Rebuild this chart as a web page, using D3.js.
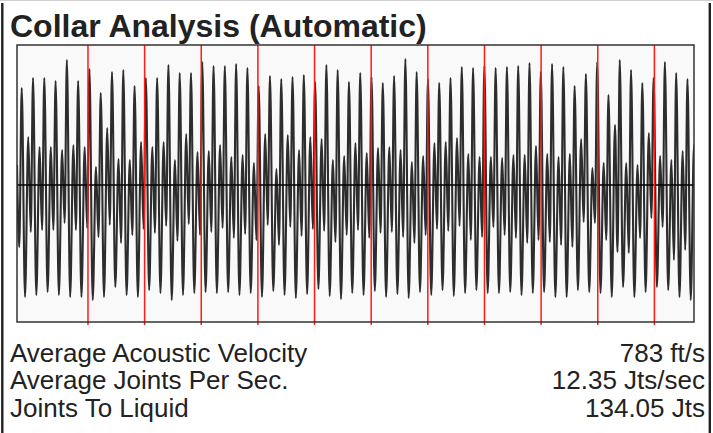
<!DOCTYPE html>
<html>
<head>
<meta charset="utf-8">
<script src="https://cdn.jsdelivr.net/npm/d3@7"></script>
<style>
  body { margin: 0; background: #fff; }
</style>
</head>
<body>
<div id="chart"></div>
<script>
// values (amplitude, arbitrary units)
let leadIn = [20, -62];
let peakTop = [97, 107, 107, 104, 125, 104, 116, 92, 113, 115,
  99, 107, 107, 120, 112, 112, 123, 119, 119, 121,
  117, 99, 109, 106, 108, 110, 103, 120, 115, 103,
  112, 108, 102, 109, 126, 113, 106, 102, 107, 118,
  117, 119, 117, 118, 119, 122, 113, 121, 118, 99,
  111, 123, 90, 125, 115, 102, 107, 123, 112, 106];
let troughDeep = [-112, -110, -107, -110, -112, -112, -115, -112, -102, -110,
  -112, -105, -108, -115, -110, -108, -107, -108, -107, -110,
  -108, -112, -106, -110, -113, -109, -104, -111, -114, -108,
  -110, -106, -112, -109, -113, -107, -110, -105, -111, -108,
  -105, -108, -108, -107, -110, -108, -107, -112, -112, -105,
  -107, -108, -112, -102, -112, -107, -102, -105, -112, -115];
let peakMid = [48, 38, 38, 35, 40, 38, 18, 57, 26, 25,
  43, 38, 43, 25, 51, 33, 34, 40, 28, 30,
  22, 51, 16, 50, 35, 48, 46, 25, 29, 42,
  32, 37, 38, 35, 23, 29, 42, 43, 47, 31,
  28, 28, 27, 30, 30, 39, 31, 28, 31, 46,
  17, 22, 60, 22, 20, 52, 29, 25, 34, 40];
let troughShallow = [-47, -45, -45, -38, -45, -43, -52, -40, -58, -50,
  -44, -48, -41, -56, -39, -50, -47, -43, -53, -49,
  -55, -40, -60, -42, -51, -44, -46, -57, -50, -45,
  -53, -48, -47, -52, -58, -50, -44, -46, -41, -55,
  -52, -42, -50, -53, -58, -55, -57, -60, -62, -37,
  -38, -55, -67, -68, -53, -33, -42, -75, -65, -50];
// collar (joint) marks, in cycle units
let collars = [6.29, 11.31, 16.33, 21.35, 26.37, 31.39, 36.41, 41.43, 46.45, 51.47, 56.49];
// where each extreme falls inside a cycle
let phase = [0.42, 0.71, 1.0, 1.22];

let title = "Collar Analysis (Automatic)";
let labels = ["Average Acoustic Velocity", "Average Joints Per Sec.", "Joints To Liquid"];
let values = ["783 ft/s", "12.35 Jts/sec", "134.05 Jts"];

let W = 713, H = 433;
let box = { left: 17, top: 45, right: 694, bottom: 322 };

let svg = d3.select("#chart").append("svg")
  .attr("width", W).attr("height", H);

// outer frame
svg.append("line").attr("x1", 0).attr("x2", W).attr("y1", 0.5).attr("y2", 0.5)
  .attr("stroke", "#cfcfcf").attr("stroke-width", 1);
svg.append("line").attr("x1", 2.3).attr("x2", 2.3).attr("y1", 3).attr("y2", H)
  .attr("stroke", "#222").attr("stroke-width", 2.4);
svg.append("line").attr("x1", 709.8).attr("x2", 709.8).attr("y1", 3).attr("y2", H)
  .attr("stroke", "#222").attr("stroke-width", 2.4);

svg.append("text")
  .attr("x", 10).attr("y", 37)
  .style("font-family", "'Liberation Sans', Arial, sans-serif")
  .style("font-weight", "bold")
  .style("font-size", "32px")
  .attr("fill", "#222")
  .text(title);

let x = d3.scaleLinear().domain([0, 60]).range([box.left, box.right]);
let y = d3.scaleLinear().domain([-137, 140]).range([box.bottom, box.top]);

// build trace points
let trace = [{ t: 0, v: leadIn[0] }, { t: 0.2, v: leadIn[1] }];
peakTop.forEach(function (d, i) {
  trace.push({ t: i + phase[0], v: peakTop[i] });
  trace.push({ t: i + phase[1], v: troughDeep[i] });
  trace.push({ t: i + phase[2], v: peakMid[i] });
  trace.push({ t: i + phase[3], v: troughShallow[i] });
});

svg.append("defs").append("clipPath").attr("id", "clip")
  .append("rect")
  .attr("x", box.left).attr("y", box.top)
  .attr("width", box.right - box.left).attr("height", box.bottom - box.top);

svg.append("rect")
  .attr("x", box.left).attr("y", box.top)
  .attr("width", box.right - box.left).attr("height", box.bottom - box.top)
  .attr("fill", "#f9f9f9");

let line = d3.line()
  .x(function (d) { return x(d.t); })
  .y(function (d) { return y(d.v); })
  .curve(d3.curveMonotoneX);

svg.append("path")
  .datum(trace)
  .attr("clip-path", "url(#clip)")
  .attr("fill", "none")
  .attr("stroke", "#000")
  .attr("stroke-opacity", 0.82)
  .attr("stroke-width", 2.1)
  .attr("stroke-linejoin", "round")
  .attr("d", line);

// zero line
svg.append("line")
  .attr("x1", box.left).attr("x2", box.right)
  .attr("y1", y(0)).attr("y2", y(0))
  .attr("stroke", "#000").attr("stroke-width", 1.5);

// collar marks
svg.selectAll(".collar")
  .data(collars)
  .enter()
  .append("line")
  .attr("class", "collar")
  .attr("x1", function (d) { return x(d); })
  .attr("x2", function (d) { return x(d); })
  .attr("y1", box.top).attr("y2", box.bottom + 3)
  .attr("stroke", "#ff1a1a").attr("stroke-width", 1.5);

// plot border
svg.append("rect")
  .attr("x", box.left).attr("y", box.top)
  .attr("width", box.right - box.left).attr("height", box.bottom - box.top)
  .attr("fill", "none").attr("stroke", "#333").attr("stroke-width", 1.5);

// readouts
let rows = svg.selectAll(".row")
  .data(labels)
  .enter()
  .append("g")
  .attr("class", "row")
  .attr("transform", function (d, i) { return "translate(0," + (362 + i * 27.3) + ")"; });

rows.append("text")
  .attr("x", 10)
  .style("font-family", "'Liberation Sans', Arial, sans-serif")
  .style("font-size", "26px")
  .attr("fill", "#222")
  .text(function (d) { return d; });

rows.append("text")
  .attr("x", 705)
  .attr("text-anchor", "end")
  .style("font-family", "'Liberation Sans', Arial, sans-serif")
  .style("font-size", "26px")
  .attr("fill", "#222")
  .text(function (d, i) { return values[i]; });
</script>
</body>
</html>
